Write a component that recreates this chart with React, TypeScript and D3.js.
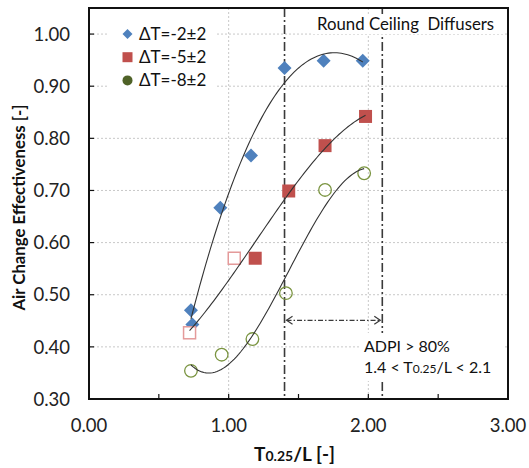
import React from "react";
import * as d3 from "d3";

// ---- data ----
const blueX = [0.73, 0.74, 0.94, 1.16, 1.4, 1.68, 1.96];
const blueY = [0.47, 0.443, 0.667, 0.767, 0.935, 0.949, 0.949];
const redX = [0.72, 1.04, 1.19, 1.43, 1.69, 1.98];
const redY = [0.427, 0.57, 0.57, 0.699, 0.786, 0.842];
const redOpen = [true, true, false, false, false, false];
const greenX = [0.73, 0.95, 1.17, 1.41, 1.69, 1.97];
const greenY = [0.354, 0.385, 0.415, 0.503, 0.701, 0.733];
const seriesNames = ["ΔT=-2±2", "ΔT=-5±2", "ΔT=-8±2"];
const xTicks = [0, 1, 2, 3];
const xMinorTicks = [0.5, 1.5, 2.5];
const yTicks = [0.3, 0.4, 0.5, 0.6, 0.7, 0.8, 0.9, 1.0];
const adpiRange = [1.4, 2.1];
const arrowY = 0.451;

const W = 529;
const H = 468;
const M = { left: 89, right: 508, top: 8, bottom: 399 };
const FONT = "Lato, 'Open Sans', sans-serif";

const BLUE = "#4F81BD";
const RED = "#C0504D";
const RED_OPEN = "#E49A9A";
const GREEN_LEG = "#4F6228";
const GREEN_OPEN = "#7A9440";

function polyfit(xs: number[], ys: number[], deg: number): number[] {
  const n = deg + 1;
  const A: number[][] = [];
  for (let i = 0; i < n; i++) {
    const row: number[] = [];
    for (let j = 0; j < n; j++) row.push(d3.sum(xs, (x) => Math.pow(x, i + j)));
    row.push(d3.sum(xs, (x, k) => Math.pow(x, i) * ys[k]));
    A.push(row);
  }
  for (let c = 0; c < n; c++) {
    let p = c;
    for (let r = c + 1; r < n; r++) if (Math.abs(A[r][c]) > Math.abs(A[p][c])) p = r;
    [A[c], A[p]] = [A[p], A[c]];
    for (let r = 0; r < n; r++) {
      if (r === c) continue;
      const f = A[r][c] / A[c][c];
      for (let k = c; k <= n; k++) A[r][k] -= f * A[c][k];
    }
  }
  return A.map((row, i) => row[n] / row[i]);
}

function trend(xs: number[], ys: number[], deg = 3): [number, number][] {
  const co = polyfit(xs, ys, deg);
  const x0 = d3.min(xs)!;
  const x1 = d3.max(xs)!;
  const N = 80;
  return d3.range(N + 1).map((i) => {
    const x = x0 + ((x1 - x0) * i) / N;
    const y = co.reduce((s, c, k) => s + c * Math.pow(x, k), 0);
    return [x, y];
  });
}

export default function App() {
  const x = d3.scaleLinear().domain([0, 3]).range([M.left, M.right]);
  const y = d3.scaleLinear().domain([0.3, 1.05]).range([M.bottom, M.top]);
  const line = d3
    .line<[number, number]>()
    .x((d) => x(d[0]))
    .y((d) => y(d[1]))
    .curve(d3.curveLinear);
  const diamond = (cx: number, cy: number, r: number) =>
    `M${cx},${cy - r}L${cx + r},${cy}L${cx},${cy + r}L${cx - r},${cy}Z`;

  const fits = [
    trend(blueX, blueY),
    trend(redX, redY),
    trend(greenX, greenY),
  ];
  const dashDot = "9,3,2,3";

  return (
    <svg width={W} height={H} style={{ display: "block", position: "absolute", left: 0, top: 0, background: "#fff" }} fontFamily={FONT}>
      <rect width={W} height={H} fill="#fff" />
      {/* grid */}
      {yTicks.filter((t) => t > 0.3).map((t) => (
        <line key={"gy" + t} x1={M.left} x2={M.right} y1={y(t)} y2={y(t)} stroke="#C8C8C8" strokeWidth={1} strokeDasharray="2,2" />
      ))}
      {xTicks.filter((t) => t > 0 && t < 3).map((t) => (
        <line key={"gx" + t} x1={x(t)} x2={x(t)} y1={M.top} y2={M.bottom} stroke="#C8C8C8" strokeWidth={1} strokeDasharray="2,2" />
      ))}
      {/* ADPI bounds */}
      {adpiRange.map((v) => (
        <line key={"ad" + v} x1={x(v)} x2={x(v)} y1={M.top} y2={M.bottom} stroke="#3a3a3a" strokeWidth={1.6} strokeDasharray={dashDot} />
      ))}
      {/* arrow */}
      <line x1={x(adpiRange[0]) + 2} x2={x(adpiRange[1]) - 2} y1={y(arrowY)} y2={y(arrowY)} stroke="#3a3a3a" strokeWidth={1.2} strokeDasharray="5,2,1.5,2" />
      <path d={`M${x(adpiRange[0]) + 8},${y(arrowY) - 4}L${x(adpiRange[0]) + 2},${y(arrowY)}L${x(adpiRange[0]) + 8},${y(arrowY) + 4}`} fill="none" stroke="#3a3a3a" strokeWidth={1.2} />
      <path d={`M${x(adpiRange[1]) - 8},${y(arrowY) - 4}L${x(adpiRange[1]) - 2},${y(arrowY)}L${x(adpiRange[1]) - 8},${y(arrowY) + 4}`} fill="none" stroke="#3a3a3a" strokeWidth={1.2} />

      {/* markers */}
      {blueX.map((v, i) => (
        <path key={"b" + i} d={diamond(x(v), y(blueY[i]), 7)} fill={BLUE} />
      ))}
      {redX.map((v, i) =>
        redOpen[i] ? (
          <rect key={"r" + i} x={x(v) - 6} y={y(redY[i]) - 6} width={12} height={12} fill="#fff" stroke={RED_OPEN} strokeWidth={1.5} />
        ) : (
          <rect key={"r" + i} x={x(v) - 6.5} y={y(redY[i]) - 6.5} width={13} height={13} fill={RED} />
        )
      )}
      {greenX.map((v, i) => (
        <circle key={"g" + i} cx={x(v)} cy={y(greenY[i])} r={6.3} fill="none" stroke={GREEN_OPEN} strokeWidth={1.3} />
      ))}
      {/* trend lines */}
      {fits.map((f, i) => (
        <path key={"t" + i} d={line(f) || ""} fill="none" stroke="#333" strokeWidth={1.1} />
      ))}

      {/* text boxes */}
      <rect x={312} y={14} width={192} height={20} fill="#fff" />
      <text x={317} y={30} fontSize={16.8} fill="#111">Round Ceiling&#160; Diffusers</text>
      <rect x={360} y={333} width={144} height={48} fill="#fff" />
      <text x={364} y={352} fontSize={16} fill="#111">ADPI &gt; 80%</text>
      <text x={364} y={373} fontSize={16} fill="#111">
        1.4 &lt; T<tspan fontSize={12}>0.25</tspan>/L &lt; 2.1
      </text>

      {/* legend */}
      <rect x={108} y={18} width={108} height={78} fill="#fff" />
      {seriesNames.map((s, i) => {
        const ly = 34 + i * 23.2;
        return (
          <g key={"l" + i}>
            {i === 0 && <path d={diamond(127.5, ly, 5)} fill={BLUE} />}
            {i === 1 && <rect x={122.5} y={ly - 5} width={10} height={10} fill={RED} />}
            {i === 2 && <circle cx={127.5} cy={ly} r={5} fill={GREEN_LEG} />}
            <text x={139} y={ly + 6} fontSize={17} fill="#111">{s}</text>
          </g>
        );
      })}

      {/* axes frame */}
      <rect x={M.left} y={M.top} width={M.right - M.left} height={M.bottom - M.top} fill="none" stroke="#111" strokeWidth={2} />
      {yTicks.map((t) => (
        <line key={"yt" + t} x1={M.left} x2={M.left + 5} y1={y(t)} y2={y(t)} stroke="#111" strokeWidth={1.2} />
      ))}
      {[...xTicks, ...xMinorTicks].map((t) => (
        <line key={"xt" + t} x1={x(t)} x2={x(t)} y1={M.bottom} y2={M.bottom - 5} stroke="#111" strokeWidth={1.2} />
      ))}
      {yTicks.map((t) => (
        <text key={"yl" + t} x={70} y={y(t)} dy="0.36em" textAnchor="end" fontSize={18.5} fill="#222">
          {d3.format(".2f")(t)}
        </text>
      ))}
      {xTicks.map((t) => (
        <text key={"xl" + t} x={x(t)} y={432} textAnchor="middle" fontSize={18.5} fill="#222">
          {d3.format(".2f")(t)}
        </text>
      ))}
      <text x={(M.left + M.right) / 2 - 4} y={461} textAnchor="middle" fontSize={19} fontWeight="bold" fill="#111">
        T<tspan fontSize={14}>0.25</tspan>/L [-]
      </text>
      <text transform={`translate(24.5,${(M.top + M.bottom) / 2 + 4}) rotate(-90)`} textAnchor="middle" fontSize={16.8} fontWeight="bold" fill="#111">
        Air Change Effectiveness [-]
      </text>
    </svg>
  );
}
